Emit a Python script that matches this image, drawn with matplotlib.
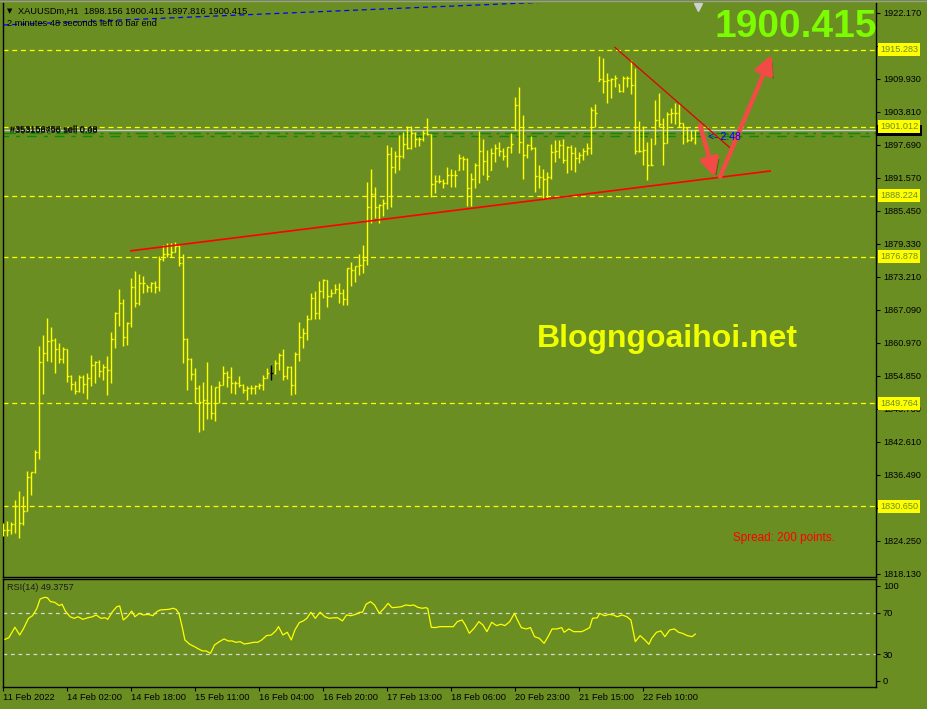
import numpy as np
import matplotlib
matplotlib.use('Agg')
import matplotlib.pyplot as plt
import matplotlib.patheffects as pe
from matplotlib.lines import Line2D
from matplotlib.patches import Rectangle

plt.rcParams['font.family'] = ['Liberation Sans', 'DejaVu Sans']

# ---------------- data ----------------
highs = [1827.6, 1827.9, 1827.7, 1831.8, 1833.4, 1832.5, 1837.2, 1837.0, 1841.0, 1860.3,
         1862.4, 1865.5, 1863.9, 1861.8, 1860.9, 1860.2, 1859.8, 1855.0, 1853.9, 1855.0,
         1855.0, 1855.4, 1858.7, 1857.6, 1857.7, 1857.0, 1858.4, 1863.0, 1866.7, 1871.0,
         1869.1, 1864.8, 1873.0, 1874.3, 1873.7, 1873.3, 1871.7, 1872.3, 1872.4, 1877.0,
         1879.1, 1879.4, 1879.4, 1879.6, 1879.1, 1877.4, 1861.9, 1858.1, 1856.2, 1853.1,
         1853.7, 1857.3, 1853.1, 1852.8, 1853.9, 1856.6, 1855.7, 1856.5, 1853.9, 1854.8,
         1853.2, 1852.9, 1853.1, 1853.1, 1853.5, 1855.0, 1856.3, 1856.9, 1857.7, 1859.0,
         1859.8, 1856.6, 1856.6, 1859.2, 1864.8, 1863.6, 1866.1, 1870.2, 1870.5, 1872.4,
         1872.8, 1872.6, 1870.9, 1871.8, 1872.0, 1870.9, 1874.8, 1876.0, 1875.2, 1877.4,
         1879.1, 1890.8, 1893.1, 1889.8, 1886.7, 1887.7, 1897.6, 1897.2, 1896.5, 1899.5,
         1900.1, 1901.2, 1901.2, 1900.1, 1899.2, 1900.4, 1902.6, 1899.7, 1892.1, 1892.1,
         1891.4, 1893.5, 1893.1, 1893.0, 1896.0, 1895.5, 1895.3, 1892.4, 1894.3, 1900.2,
         1898.7, 1896.7, 1897.0, 1897.9, 1898.1, 1897.0, 1897.3, 1899.8, 1906.6, 1908.4,
         1903.2, 1897.8, 1899.3, 1897.3, 1893.9, 1893.1, 1892.7, 1897.8, 1898.6, 1898.6,
         1898.7, 1897.4, 1897.6, 1897.3, 1896.4, 1897.1, 1898.0, 1904.7, 1905.2, 1914.1,
         1913.8, 1910.9, 1910.0, 1910.7, 1908.9, 1910.4, 1910.4, 1913.4, 1912.0, 1902.1,
         1901.2, 1898.2, 1898.9, 1906.0, 1907.2, 1902.7, 1903.8, 1904.5, 1905.5, 1905.2,
         1901.8, 1900.7, 1900.4, 1900.415]
lows = [1825.1, 1825.1, 1825.5, 1825.7, 1824.8, 1827.1, 1829.8, 1832.7, 1836.8, 1839.4,
        1851.4, 1857.6, 1857.4, 1855.4, 1857.2, 1857.2, 1853.7, 1852.2, 1851.4, 1851.9,
        1851.6, 1850.5, 1852.9, 1853.5, 1854.6, 1854.0, 1851.3, 1853.5, 1860.0, 1864.1,
        1860.4, 1860.5, 1863.9, 1867.6, 1867.9, 1870.1, 1870.4, 1870.4, 1870.1, 1870.5,
        1876.2, 1876.9, 1876.9, 1877.8, 1875.1, 1857.1, 1852.2, 1854.0, 1849.8, 1844.3,
        1844.8, 1846.8, 1846.8, 1846.5, 1849.8, 1853.1, 1852.8, 1851.7, 1851.4, 1852.8,
        1851.6, 1850.3, 1851.4, 1851.4, 1852.3, 1852.2, 1854.4, 1854.0, 1855.1, 1855.9,
        1854.0, 1854.2, 1851.3, 1851.4, 1857.6, 1860.0, 1861.5, 1865.3, 1865.3, 1865.3,
        1869.2, 1867.5, 1869.5, 1870.1, 1868.4, 1867.9, 1867.9, 1871.5, 1872.2, 1873.5,
        1873.8, 1875.4, 1883.1, 1884.0, 1883.2, 1884.5, 1885.7, 1886.1, 1892.4, 1893.0,
        1895.3, 1896.8, 1896.8, 1897.3, 1897.4, 1898.4, 1899.5, 1888.0, 1888.7, 1890.5,
        1889.6, 1890.4, 1889.9, 1889.9, 1893.0, 1893.0, 1886.3, 1886.3, 1889.6, 1890.5,
        1892.1, 1891.1, 1893.0, 1894.5, 1895.6, 1894.8, 1893.6, 1896.1, 1900.5, 1896.1,
        1891.4, 1895.2, 1896.7, 1889.0, 1889.6, 1887.7, 1887.7, 1891.4, 1894.5, 1895.2,
        1894.2, 1892.5, 1893.0, 1892.7, 1894.2, 1894.8, 1895.8, 1895.9, 1901.0, 1909.5,
        1907.2, 1905.4, 1906.4, 1908.3, 1907.4, 1907.5, 1908.4, 1907.0, 1895.9, 1896.4,
        1894.0, 1891.1, 1893.9, 1897.8, 1901.0, 1894.0, 1898.0, 1901.7, 1901.5, 1901.0,
        1897.8, 1898.1, 1898.4, 1897.816]
closes = [1826.2, 1826.2, 1827.3, 1830.7, 1827.5, 1829.8, 1836.0, 1837.0, 1840.7, 1857.4,
          1859.0, 1861.3, 1861.5, 1859.8, 1857.9, 1859.8, 1854.8, 1853.3, 1852.0, 1854.6,
          1853.3, 1854.4, 1856.8, 1857.4, 1855.7, 1856.5, 1855.8, 1861.6, 1866.5, 1868.3,
          1862.0, 1864.7, 1871.2, 1868.3, 1872.0, 1872.0, 1871.2, 1872.0, 1871.2, 1876.4,
          1877.5, 1877.5, 1877.8, 1878.9, 1875.7, 1861.6, 1857.9, 1855.1, 1852.6, 1850.0,
          1850.3, 1849.8, 1848.0, 1852.7, 1853.1, 1855.3, 1854.6, 1853.4, 1853.4, 1853.1,
          1852.2, 1852.5, 1852.6, 1852.9, 1853.1, 1854.4, 1855.3, 1855.3, 1857.1, 1858.7,
          1854.8, 1856.5, 1853.1, 1858.8, 1862.0, 1862.8, 1865.3, 1869.2, 1866.5, 1870.5,
          1872.6, 1869.6, 1870.2, 1871.0, 1870.2, 1869.0, 1874.8, 1874.4, 1875.2, 1875.4,
          1876.3, 1886.2, 1888.5, 1886.2, 1886.5, 1886.8, 1896.0, 1893.5, 1895.6, 1895.6,
          1897.8, 1897.1, 1899.9, 1898.7, 1898.7, 1899.8, 1899.6, 1890.4, 1891.0, 1891.0,
          1890.5, 1892.1, 1892.1, 1892.1, 1895.3, 1895.0, 1889.6, 1891.3, 1894.0, 1896.6,
          1894.7, 1891.9, 1896.1, 1897.0, 1896.5, 1895.6, 1897.2, 1897.9, 1905.0, 1898.2,
          1895.8, 1897.6, 1897.0, 1891.9, 1891.7, 1891.4, 1891.7, 1896.4, 1896.5, 1897.6,
          1894.8, 1897.3, 1896.1, 1895.3, 1895.8, 1896.5, 1897.1, 1904.2, 1903.5, 1909.9,
          1909.5, 1909.7, 1909.8, 1910.0, 1907.6, 1910.1, 1910.1, 1908.8, 1896.5, 1896.5,
          1896.7, 1893.9, 1894.0, 1902.3, 1901.5, 1898.0, 1903.4, 1903.5, 1903.6, 1901.7,
          1901.0, 1898.6, 1898.9, 1900.415]
first_open = 1826.0
last_open = 1898.156
special_bar = 67   # bar drawn in black

rsi_bar = [0, 1.4, 2.9, 4.1, 5.1, 6.3, 7.3, 8.4, 9.2, 10.3, 11.0, 11.8, 12.8, 14.0, 14.7,
           15.5, 16.7, 17.7, 18.7, 19.9, 21.1, 22.3, 23.2, 24.4, 25.5, 26.1, 27.3, 28.4,
           29.1, 30.0, 31.0, 32.1, 32.9, 34.0, 35.0, 36.2, 37.4, 38.4, 39.2, 40.4, 41.4,
           42.4, 43.2, 43.9, 44.7, 45.4, 46.6, 47.8, 48.8, 49.8, 50.7, 51.8, 52.8, 54.0,
           55.2, 56.2, 57.2, 58.1, 59.2, 60.2, 61.4, 62.6, 63.6, 64.6, 65.8, 67.0, 68.1,
           68.8, 69.9, 71.0, 72.0, 72.9, 74.0, 75.0, 75.9, 76.9, 78.0, 79.2, 80.4, 81.5,
           82.6, 83.6, 84.8, 85.8, 86.9, 88.1, 89.1, 89.8, 90.7, 91.8, 92.8, 94.0, 95.2,
           96.2, 97.2, 98.4, 99.6, 100.6, 101.7, 102.6, 103.6, 104.7, 105.6, 106.1, 107.0,
           108.0, 109.1, 110.3, 111.5, 112.5, 113.5, 114.7, 115.5, 116.5, 117.7, 118.9,
           119.9, 120.9, 122.1, 123.3, 124.4, 125.4, 126.6, 127.8, 128.4, 129.5, 130.7,
           131.8, 132.8, 134.0, 135.2, 136.2, 137.2, 138.4, 139.6, 140.2, 141.4, 142.6,
           143.6, 144.6, 145.5, 146.6, 147.3, 148.5, 149.1, 150.3, 151.5, 152.5, 153.5,
           154.7, 155.9, 156.9, 158.0, 159.2, 160.4, 161.4, 162.1, 163.3, 164.4, 165.4,
           166.6, 167.8, 168.8, 169.8, 171.0, 172.2, 173.0]
rsi = [43.7, 46, 55.9, 48.5, 55, 64.5, 67, 74, 83, 84.6, 84.3, 80.5, 79.9, 76.7, 78, 71.5,
       66, 64.5, 66, 63.5, 65, 66, 67.7, 64.5, 65, 63.5, 70.9, 75.7, 76.3, 62.9, 66, 71.5,
       66, 69.3, 67.7, 68.3, 67, 70.9, 72.5, 72.8, 73.1, 74.1, 73.1, 69.3, 56.5, 43.7,
       39.6, 37.3, 35.1, 33.2, 33.2, 30.9, 38.9, 42.1, 44.7, 42.8, 42.8, 41.5, 42.1, 39.9,
       40.5, 41.5, 41.5, 43.7, 47.9, 48.5, 52.4, 56.5, 48.5, 51.1, 43.7, 53.3, 60.4, 62,
       64.5, 70.3, 64.5, 70.3, 66, 64.5, 65, 65, 62, 67.7, 67, 68.3, 70.3, 70.3, 78, 80.5,
       77.3, 69.3, 74.1, 78.9, 74.7, 75.1, 75.7, 77.3, 76.7, 77.3, 75.1, 74.1, 74.7, 74.1,
       55.9, 55.6, 56.5, 56.5, 56.5, 56.5, 61.3, 62.9, 58.1, 50.1, 55, 61.3, 58.1, 51.7,
       60.7, 57.5, 58.8, 57.5, 61.3, 69.3, 63.9, 55.6, 54.3, 55.6, 46.9, 45.3, 40.5, 46.9,
       54.3, 54.3, 55.6, 51.1, 54.3, 51.7, 51.7, 51.7, 53.3, 55.6, 64.5, 65, 69.3, 67,
       68.3, 67.7, 66, 67.7, 66, 62.9, 42.1, 47.9, 43.7, 39.6, 45.3, 51.1, 52.4, 46.9,
       53.3, 54.3, 51.1, 50.1, 47.9, 46.9, 49.4]

price_ticks = [1922.170, 1909.930, 1903.810, 1897.690, 1891.570, 1885.450,
               1879.330, 1873.210, 1867.090, 1860.970, 1854.850, 1848.730, 1842.610,
               1836.490, 1824.250, 1818.130]
hidden_ticks = [1916.050, 1830.370]   # tick marks whose labels are covered by level boxes
levels = [1915.283, 1901.012, 1888.224, 1876.878, 1849.764, 1830.650]
bid = 1900.415
order_levels = [1899.80, 1899.30]
date_ticks = [0, 16, 32, 48, 64, 80, 96, 112, 128, 144, 160]
date_labels = ['11 Feb 2022', '14 Feb 02:00', '14 Feb 18:00', '15 Feb 11:00', '16 Feb 04:00',
               '16 Feb 20:00', '17 Feb 13:00', '18 Feb 06:00', '20 Feb 23:00', '21 Feb 15:00',
               '22 Feb 10:00']
rsi_ticks = [4.4, 30, 70, 95.8]
rsi_tick_labels = ['0', '30', '70', '100']

support_line = ([31.9, 191.7], [1878.0, 1892.8])
down_line = ([152.9, 181.7], [1915.75, 1897.1])
blue_line = ([0, 138], [1919.9, 1924.2])
arrows = [((174.2, 1901.2), (177.9, 1891.6)), ((179.2, 1891.75), (192.1, 1914.4))]

# ---------------- styling ----------------
OLIVE = '#6B8E23'
YEL = '#FFFF00'
W, H = 928, 709
fig = plt.figure(figsize=(W / 100, H / 100), dpi=100, facecolor=OLIVE)

ax = fig.add_axes([2.5 / W, (H - 577) / H, 873.5 / W, 574 / H])
ax.set_facecolor(OLIVE)
ax.set_xlim(-0.2, 218.175)
ax.set_ylim(1817.49, 1923.97)
for s in ['left', 'right', 'bottom']:
    ax.spines[s].set_color('black')
    ax.spines[s].set_linewidth(1)
ax.spines['top'].set_visible(False)
ax.set_xticks([])
ax.yaxis.tick_right()
all_ticks = price_ticks + hidden_ticks
ax.set_yticks(all_ticks)
ax.set_yticklabels([f'{v:.3f}' for v in price_ticks] + [''] * len(hidden_ticks))
ax.tick_params(axis='y', direction='out', length=3, width=0.8, colors='black',
               labelsize=6.6, pad=2)

n = len(closes)
x = np.arange(n)
opens = np.array([first_open] + closes[:-1])
opens[-1] = last_open
opens = np.clip(opens, lows, highs)
cols = [YEL] * n
cols[special_bar] = 'black'

# horizontal levels
for lv in levels:
    ax.axhline(lv, color=YEL, lw=0.9, ls=(0, (4, 3)), zorder=1)
ax.axhline(bid, color='#C8C8C8', lw=1, zorder=1)
ax.axhline(order_levels[0], color='#0B8A0B', lw=1, ls=(0, (9, 4, 2, 4)), zorder=1)
ax.axhline(order_levels[1], color='#0B8A0B', lw=1, ls=(3, (7, 5, 3, 5)), zorder=1)

# OHLC bars
ax.vlines(x, lows, highs, colors=cols, lw=1.0, zorder=3)
ax.hlines(opens, x - 0.35, x, colors=cols, lw=1.0, zorder=3)
ax.hlines(closes, x, x + 0.35, colors=cols, lw=1.0, zorder=3)

# trend lines
ax.plot(*support_line, color='#FF0000', lw=1.2, zorder=4)
ax.plot(*down_line, color='#E00000', lw=0.9, zorder=4)
ax.plot(*blue_line, color='#0000FF', lw=0.9, ls=(0, (4, 3)), zorder=4)

# arrows
for (p0, p1) in arrows:
    ann = ax.annotate('', xy=p1, xytext=p0,
                      arrowprops=dict(arrowstyle='-|>,head_length=0.9,head_width=0.45',
                                      color='#F24A45', lw=3.2, shrinkA=0, shrinkB=0,
                                      mutation_scale=12), zorder=6)
    ann.arrow_patch.set_path_effects([pe.SimplePatchShadow(offset=(2, -2), shadow_rgbFace='k', alpha=0.3),
                                      pe.Normal()])

# axis labels for levels
ytr = ax.get_yaxis_transform()
ppx = 106.48 / 574.0   # price units per pixel
ax.add_patch(Rectangle((1 + 1.5 / 873.5, bid - 6 * ppx), 44 / 873.5, 11 * ppx, transform=ytr,
                       facecolor='black', edgecolor='none', clip_on=False, zorder=9))
for lv in levels:
    ax.text(1 + 4 / 873.5, lv, f'{lv:.3f}', transform=ytr, va='center', ha='left',
            fontsize=6.6, color=OLIVE,
            bbox=dict(boxstyle='square,pad=0.22', fc=YEL, ec='none'), clip_on=False, zorder=10)

# order labels
ax.text(7.5 / 873.5, 1900.45, '#353156458 sell 0.48', transform=ytr, va='center', ha='left',
        fontsize=6.6, color='black', zorder=7)
ax.text(7.5 / 873.5, 1900.25, '#353108796 sell 0.08', transform=ytr, va='center', ha='left',
        fontsize=6.6, color='black', zorder=7)
ax.text((708 - 2.5) / 873.5, 1899.1, '<- 2:48', transform=ytr, va='center', ha='left',
        fontsize=7.5, color='#0000FF', zorder=7)

# shift marker
ax.plot([173.7], [1923.2], marker='v', color='#D0D0D0', ms=6, clip_on=False, zorder=8)

# texts
fig.text(796 / W, 1 - 27 / H, '1900.415', fontsize=28, fontweight='bold', color='#7CFC00',
         ha='center', va='center')
fig.text(667 / W, 1 - 339 / H, 'Blogngoaihoi.net', fontsize=23, fontweight='bold',
         color='#F0FF00', ha='center', va='center')
fig.text(733 / W, 1 - 538 / H, 'Spread: 200 points.', fontsize=8.5, color='#FF0000',
         ha='left', va='center')
fig.text(7 / W, 1 - 11 / H, '\u25BC', fontsize=5, color='black', ha='left', va='center',
         family=['DejaVu Sans'])
fig.text(18 / W, 1 - 11 / H, 'XAUUSDm,H1  1898.156 1900.415 1897.816 1900.415', fontsize=6.7,
         color='black', ha='left', va='center')
fig.text(7 / W, 1 - 24 / H, '2 minutes 48 seconds left to bar end', fontsize=6.7,
         color='black', ha='left', va='center')
fig.add_artist(Line2D([0, 1], [1 - 0.5 / H, 1 - 0.5 / H], color='#9A9A9A', lw=1))

# ---------------- RSI panel ----------------
rax = fig.add_axes([2.5 / W, 22.5 / H, 873.5 / W, 107.5 / H])
rax.set_facecolor(OLIVE)
rax.set_xlim(-0.2, 218.175)
rax.set_ylim(-0.9, 102.2)
for s in rax.spines.values():
    s.set_color('black')
    s.set_linewidth(1)
rax.axhline(70, color='#D8D8D8', lw=0.9, ls=(0, (3, 3)))
rax.axhline(30, color='#D8D8D8', lw=0.9, ls=(0, (3, 3)))
rax.plot(rsi_bar, rsi, color=YEL, lw=0.9)
rax.yaxis.tick_right()
rax.set_yticks(rsi_ticks)
rax.set_yticklabels(rsi_tick_labels)
rax.set_xticks(date_ticks)
rax.set_xticklabels(date_labels, ha='left')
rax.tick_params(axis='both', direction='out', length=3, width=0.8, colors='black',
                labelsize=6.7, pad=2)
rax.text((7 - 2.5) / 873.5, 0.925, 'RSI(14) 49.3757', transform=rax.transAxes,
         fontsize=6.6, color='#1A1A1A', ha='left', va='center')

fig.savefig('out.png', dpi=100, facecolor=OLIVE)
